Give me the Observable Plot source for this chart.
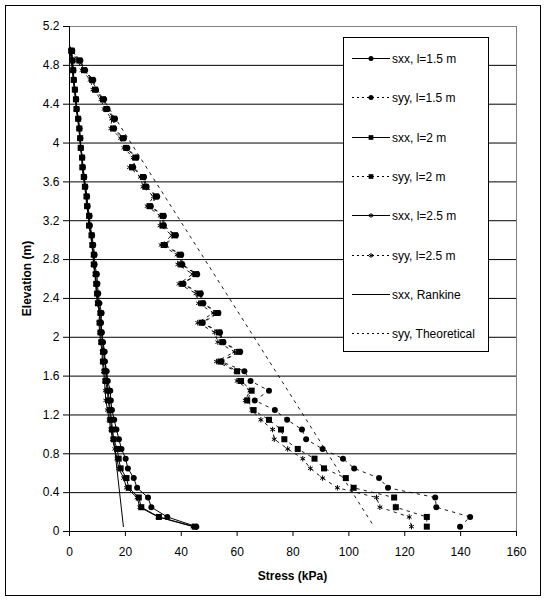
<!DOCTYPE html>
<html><head><meta charset="utf-8">
<script src="https://cdn.jsdelivr.net/npm/d3@7"></script>
<script src="https://cdn.jsdelivr.net/npm/@observablehq/plot@0.6"></script>
<style>
body{margin:0;background:#fff}
#chart{position:relative;width:547px;height:600px}
</style>
</head><body><div id="chart"></div>
<script>
// ---------- data ----------
const elevation = [4.95,4.85,4.75,4.65,4.55,4.45,4.35,4.25,4.15,4.05,3.95,3.85,3.75,3.65,3.55,3.45,3.35,3.25,3.15,3.05,2.95,2.85,2.75,2.65,2.55,2.45,2.35,2.25,2.15,2.05,1.95,1.85,1.75,1.65,1.55,1.45,1.35,1.25,1.15,1.05,0.95,0.85,0.75,0.65,0.55,0.45,0.35,0.25,0.15,0.05];

const sxx_l15 = [0.8,1.1,1.4,1.6,2.0,2.4,2.6,3.2,3.6,3.9,4.1,4.6,4.8,5.3,5.7,6.3,6.5,7.2,7.3,8.1,8.5,9.0,9.0,9.8,10.0,10.3,10.7,11.5,11.3,11.6,12.0,12.6,12.7,13.3,13.7,14.6,14.8,15.2,16.0,16.8,17.7,18.6,20.1,20.9,23.0,24.2,28.1,29.3,35.0,45.4];
const sxx_l2  = [0.7,1.0,1.3,1.5,1.9,2.3,2.5,3.1,3.5,3.8,4.0,4.5,4.6,5.1,5.5,6.1,6.3,7.0,7.0,7.9,8.2,8.7,8.7,9.4,9.6,9.9,10.2,11.1,10.8,11.1,11.4,12.0,12.0,12.6,12.9,13.6,13.8,14.4,14.6,15.2,15.8,17.1,17.6,18.3,20.4,21.2,24.8,25.7,32.0,44.8];
const sxx_l25 = [0.6,0.9,1.2,1.4,1.8,2.2,2.4,3.0,3.4,3.7,3.9,4.4,4.5,5.0,5.4,5.9,6.1,6.8,6.8,7.7,8.0,8.5,8.5,9.1,9.3,9.6,9.9,10.8,10.5,10.8,11.1,11.7,11.7,12.2,12.5,12.8,13.0,13.6,14.2,14.8,15.4,16.2,17.0,17.6,19.4,20.4,24.2,25.2,31.7,44.2];

const syy_l15 = [1.0,3.9,5.6,8.5,9.5,12.4,13.6,16.3,16.0,19.5,20.7,24.0,22.8,26.7,27.6,31.4,29.1,33.8,33.8,38.1,34.2,40.0,40.4,45.7,40.8,47.0,47.9,53.3,47.7,53.9,55.1,61.1,54.4,62.6,64.8,71.4,66.3,73.5,77.9,83.2,84.7,90.6,97.9,101.9,110.8,114.0,130.9,131.3,143.4,139.8];
const syy_l2  = [0.7,3.5,5.2,8.1,9.1,12.0,13.2,15.9,15.6,19.1,20.3,23.6,22.4,26.3,27.2,31.0,28.7,33.4,33.4,37.7,33.8,39.6,40.0,45.3,40.4,46.6,47.5,52.9,47.3,53.5,54.7,60.7,54.0,60.0,61.4,65.2,63.6,65.9,71.4,75.7,76.9,81.7,87.7,91.1,98.9,101.7,116.2,116.8,127.9,127.9];
const syy_l25 = [0.4,2.9,4.5,7.4,8.4,11.3,12.4,15.1,14.8,18.3,19.5,22.8,21.5,25.4,26.3,30.1,27.8,32.5,32.4,36.7,32.8,38.5,38.8,44.1,39.2,45.3,46.2,51.5,45.9,52.0,53.1,59.1,52.6,59.6,60.0,64.6,62.9,65.3,68.5,72.7,73.3,78.1,83.5,86.2,90.6,95.9,109.9,111.1,121.6,122.4];

const rankineElevation = [5.0, 0.05];
const rankineSxx = [0, 19.3];
const theoryElevation = [5.0, 0.05];
const theorySyy = [0, 109];

const xTicks = [0,20,40,60,80,100,120,140,160];
const yTicks = [0,0.4,0.8,1.2,1.6,2,2.4,2.8,3.2,3.6,4,4.4,4.8,5.2];
const seriesNames = ["sxx, l=1.5 m","syy, l=1.5 m","sxx, l=2 m","syy, l=2 m","sxx, l=2.5 m","syy, l=2.5 m","sxx, Rankine","syy, Theoretical"];
const xTitle = "Stress (kPa)";
const yTitle = "Elevation (m)";

// ---------- build ----------
const rows = (ys, xs) => ys.map((e, i) => ({e, s: xs[i]}));
const D = {
  sxx15: rows(elevation, sxx_l15), syy15: rows(elevation, syy_l15),
  sxx2: rows(elevation, sxx_l2),   syy2: rows(elevation, syy_l2),
  sxx25: rows(elevation, sxx_l25), syy25: rows(elevation, syy_l25),
  rank: rows(rankineElevation, rankineSxx), theo: rows(theoryElevation, theorySyy)
};
const DASH = "2.5,5";
const lineM = (data, dash, w = 1) => Plot.line(data, {x: "s", y: "e", stroke: "black", strokeWidth: w, strokeDasharray: dash});
const circ = data => Plot.dot(data, {x: "s", y: "e", r: 3, fill: "black", stroke: "none", symbol: "circle"});
const sq = data => Plot.dot(data, {x: "s", y: "e", r: 3.4, fill: "black", stroke: "none", symbol: "square"});
const star = data => Plot.dot(data, {x: "s", y: "e", r: 2.6, fill: "none", stroke: "black", strokeWidth: 1, symbol: "asterisk"});

const plot = Plot.plot({
  width: 547, height: 600,
  marginLeft: 69, marginRight: 31, marginTop: 26, marginBottom: 69,
  style: {fontFamily: "'Liberation Sans', Arial, sans-serif", fontSize: "12px", background: "white", color: "black"},
  x: {domain: [0, 160]},
  y: {domain: [0, 5.2]},
  marks: [
    Plot.gridY(yTicks.filter(t => t > 0 && t < 5.2), {stroke: "black", strokeOpacity: 1, strokeWidth: 1}),
    Plot.ruleY([5.2], {stroke: "#808080"}),
    Plot.ruleX([160], {stroke: "#808080"}),
    lineM(D.theo, DASH, 0.9),
    lineM(D.rank, null),
    lineM(D.syy25, DASH, 0.9), star(D.syy25),
    lineM(D.syy2, DASH, 0.9), sq(D.syy2),
    lineM(D.syy15, DASH, 0.9), circ(D.syy15),
    lineM(D.sxx25, null), star(D.sxx25),
    lineM(D.sxx2, null), sq(D.sxx2),
    lineM(D.sxx15, null), circ(D.sxx15),
    Plot.ruleX([0], {stroke: "black"}),
    Plot.ruleY([0], {stroke: "black"}),
    Plot.axisX({ticks: xTicks, tickSize: 5, tickPadding: 11, label: null, fontSize: 12, tickFormat: d => String(d)}),
    Plot.axisY({ticks: yTicks, tickSize: 6, tickPadding: 4, label: null, fontSize: 12, tickFormat: d => String(d)})
  ]
});
document.getElementById("chart").appendChild(plot);

const svg = d3.select(plot);
const xs = plot.scale("x"), ys = plot.scale("y");
const x0 = xs.apply(0), x1 = xs.apply(160), y0 = ys.apply(0), y1 = ys.apply(5.2);

// outer chart border
svg.insert("rect", ":first-child").attr("x", 5.5).attr("y", 5.5).attr("width", 535).attr("height", 590)
  .attr("fill", "white").attr("stroke", "black").attr("stroke-width", 1);

// axis titles
svg.append("text").text(xTitle).attr("x", (x0 + x1) / 2).attr("y", 580)
  .attr("text-anchor", "middle").attr("font-weight", "bold").attr("font-size", 12).attr("fill", "black");
svg.append("text").text(yTitle).attr("transform", `translate(31,${(y0 + y1) / 2}) rotate(-90)`)
  .attr("text-anchor", "middle").attr("font-weight", "bold").attr("font-size", 12).attr("fill", "black");

// legend
const markerKinds = ["circle","circle","square","square","asterisk","asterisk",null,null];
const dashed = [false,true,false,true,false,true,false,true];
const lg = svg.append("g");
lg.append("rect").attr("x", 343.5).attr("y", 37.5).attr("width", 145).attr("height", 314)
  .attr("fill", "white").attr("stroke", "black").attr("stroke-width", 1);
seriesNames.forEach((name, i) => {
  const cy = Math.round(58 + i * 39.3) + 0.5;
  lg.append("line").attr("x1", 352).attr("x2", 390).attr("y1", cy).attr("y2", cy)
    .attr("stroke", "black").attr("stroke-width", 1).attr("stroke-dasharray", dashed[i] ? "2,3" : null);
  const k = markerKinds[i];
  if (k) {
    const t = k === "circle" ? d3.symbolCircle : k === "square" ? d3.symbolSquare : d3.symbolAsterisk;
    const size = k === "circle" ? 20 : k === "square" ? 22 : 16;
    lg.append("path").attr("d", d3.symbol(t, size)()).attr("transform", `translate(371,${cy})`)
      .attr("fill", k === "asterisk" ? "none" : "black").attr("stroke", k === "asterisk" ? "black" : "none");
  }
  lg.append("text").text(name).attr("x", 392).attr("y", cy).attr("dy", "0.35em")
    .attr("text-anchor", "start").attr("font-size", 12).attr("fill", "black");
});
</script>
</body></html>
